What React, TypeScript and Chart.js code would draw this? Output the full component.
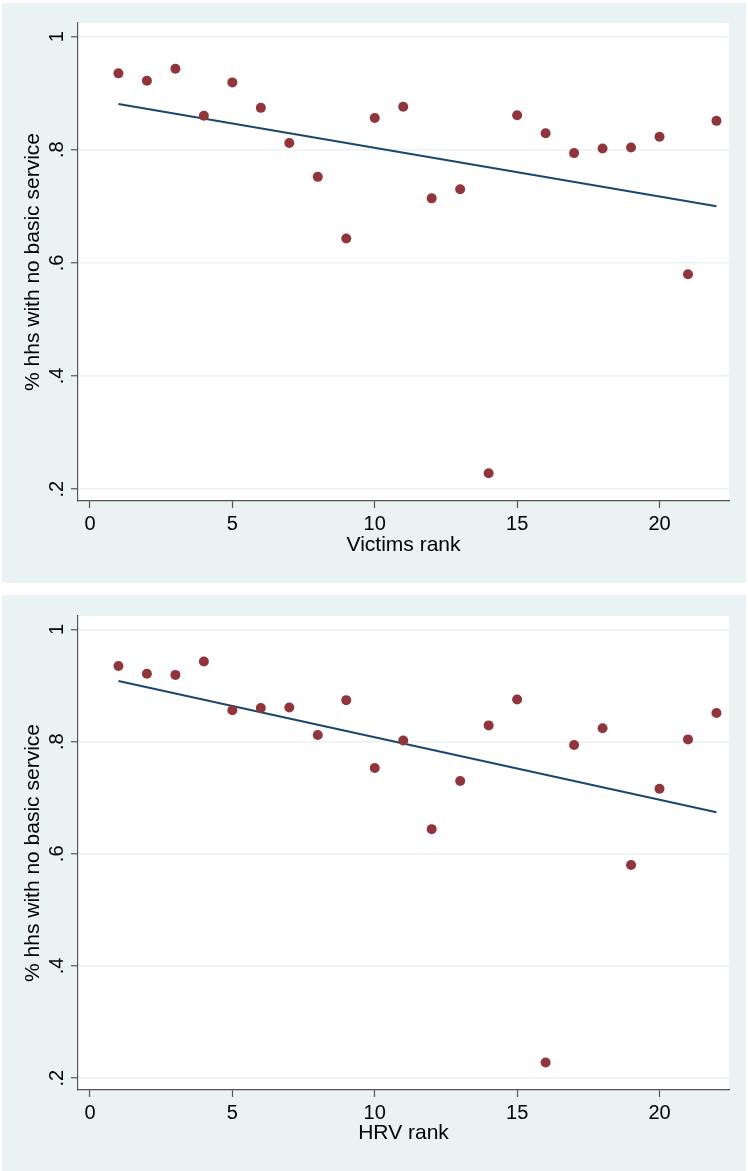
import React, { useEffect, useRef } from "react";
import { Chart, registerables } from "chart.js";

Chart.register(...registerables);

// ---- data ----
const ranks = [1, 2, 3, 4, 5, 6, 7, 8, 9, 10, 11, 12, 13, 14, 15, 16, 17, 18, 19, 20, 21, 22];
const victimsShare = [0.935, 0.922, 0.943, 0.86, 0.919, 0.874, 0.812, 0.752, 0.643, 0.856, 0.876, 0.714, 0.73, 0.228, 0.861, 0.829, 0.794, 0.802, 0.804, 0.823, 0.58, 0.851];
const hrvShare = [0.935, 0.921, 0.919, 0.943, 0.856, 0.86, 0.861, 0.812, 0.874, 0.753, 0.802, 0.644, 0.73, 0.829, 0.875, 0.228, 0.794, 0.824, 0.58, 0.716, 0.804, 0.851];
const fitRanks = [1, 22];
const victimsFit = [0.881, 0.7];
const hrvFit = [0.908, 0.674];
const xTickValues = [0, 5, 10, 15, 20];
const xTickLabels = ["0", "5", "10", "15", "20"];
const yTickValues = [0.2, 0.4, 0.6, 0.8, 1];
const yTickLabels = [".2", ".4", ".6", ".8", "1"];
const yTitle = "% hhs with no basic service";
const victimsTitle = "Victims rank";
const hrvTitle = "HRV rank";

const FONT = '"Liberation Sans", Arial, sans-serif';
const BG = "#eaf2f3";
const MAROON = "#90353b";
const NAVY = "#1a476f";
const AXIS = "#555555";

const stataPlugin = {
  id: "stataLook",
  beforeDraw(chart: any) {
    const { ctx, chartArea } = chart;
    const { left, top, right, bottom } = chartArea;
    ctx.save();
    ctx.fillStyle = "#ffffff";
    ctx.fillRect(left, top, right - left, bottom - top);
    ctx.restore();
  },
  afterDraw(chart: any) {
    const { ctx } = chart;
    const y = chart.scales.y;
    ctx.save();
    ctx.font = `20px ${FONT}`;
    ctx.fillStyle = "#000";
    ctx.textAlign = "center";
    ctx.textBaseline = "alphabetic";
    yTickValues.forEach((v, i) => {
      const py = y.getPixelForValue(v);
      ctx.save();
      ctx.translate(61, py);
      ctx.rotate(-Math.PI / 2);
      ctx.fillText(yTickLabels[i], 0, 0);
      ctx.restore();
    });
    ctx.restore();
  },
};

type PanelProps = {
  share: number[];
  fit: number[];
  xTitle: string;
  top: number;
  height: number;
  padTop: number;
  xAxisH: number;
};

function Panel({ share, fit, xTitle, top, height, padTop, xAxisH }: PanelProps) {
  const ref = useRef<HTMLCanvasElement | null>(null);
  useEffect(() => {
    if (!ref.current) return;
    const chart = new Chart(ref.current, {
      type: "scatter",
      data: {
        datasets: [
          {
            type: "scatter",
            data: ranks.map((r, i) => ({ x: r, y: share[i] })),
            backgroundColor: MAROON,
            borderWidth: 0,
            pointRadius: 5,
            pointHoverRadius: 5,
            order: 0,
          } as any,
          {
            type: "line",
            data: fitRanks.map((r, i) => ({ x: r, y: fit[i] })),
            borderColor: NAVY,
            borderWidth: 2,
            pointRadius: 0,
            showLine: true,
            fill: false,
            order: 1,
          } as any,
        ],
      },
      options: {
        animation: false,
        responsive: false,
        events: [],
        layout: { padding: { left: 0, top: padTop, right: 17, bottom: 0 } },
        plugins: { legend: { display: false }, tooltip: { enabled: false } },
        scales: {
          x: {
            type: "linear",
            min: -0.42,
            max: 22.44,
            afterBuildTicks: (s: any) => {
              s.ticks = xTickValues.map((v) => ({ value: v }));
            },
            afterFit: (s: any) => {
              s.height = xAxisH;
            },
            grid: {
              display: true,
              drawOnChartArea: false,
              drawTicks: true,
              tickLength: 7,
              tickColor: AXIS,
              tickWidth: 1.2,
            },
            border: { display: true, color: AXIS, width: 1.2 },
            ticks: {
              color: "#000",
              font: { family: FONT, size: 20 },
              padding: 4,
              maxRotation: 0,
              minRotation: 0,
              autoSkip: false,
              callback: (v: any) => {
                const i = xTickValues.indexOf(Number(v));
                return i >= 0 ? xTickLabels[i] : "";
              },
            },
            title: {
              display: true,
              text: xTitle,
              color: "#000",
              font: { family: FONT, size: 21 },
              padding: { top: 0, bottom: 25 },
            },
          },
          y: {
            type: "linear",
            min: 0.179,
            max: 1.024,
            afterBuildTicks: (s: any) => {
              s.ticks = yTickValues.map((v) => ({ value: v }));
            },
            afterFit: (s: any) => {
              s.width = 76;
            },
            grid: {
              display: true,
              color: BG,
              lineWidth: 1.5,
              drawTicks: true,
              tickLength: 7,
              tickColor: AXIS,
              tickWidth: 1.2,
            },
            border: { display: true, color: AXIS, width: 1.2 },
            ticks: { display: false },
            title: {
              display: true,
              text: yTitle,
              color: "#000",
              font: { family: FONT, size: 21 },
              padding: { top: 19, bottom: 0 },
            },
          },
        },
      },
      plugins: [stataPlugin],
    } as any);
    return () => chart.destroy();
  }, []);
  return (
    <div
      style={{
        position: "absolute",
        left: 2,
        top,
        width: 744,
        height,
        background: BG,
      }}
    >
      <canvas ref={ref} width={744} height={height} style={{ display: "block", width: 744, height }} />
    </div>
  );
}

export default function App() {
  return (
    <div>
      <Panel share={victimsShare} fit={victimsFit} xTitle={victimsTitle} top={3} height={580} padTop={20} xAxisH={82} />
      <Panel share={hrvShare} fit={hrvFit} xTitle={hrvTitle} top={595} height={576} padTop={21} xAxisH={81} />
    </div>
  );
}
